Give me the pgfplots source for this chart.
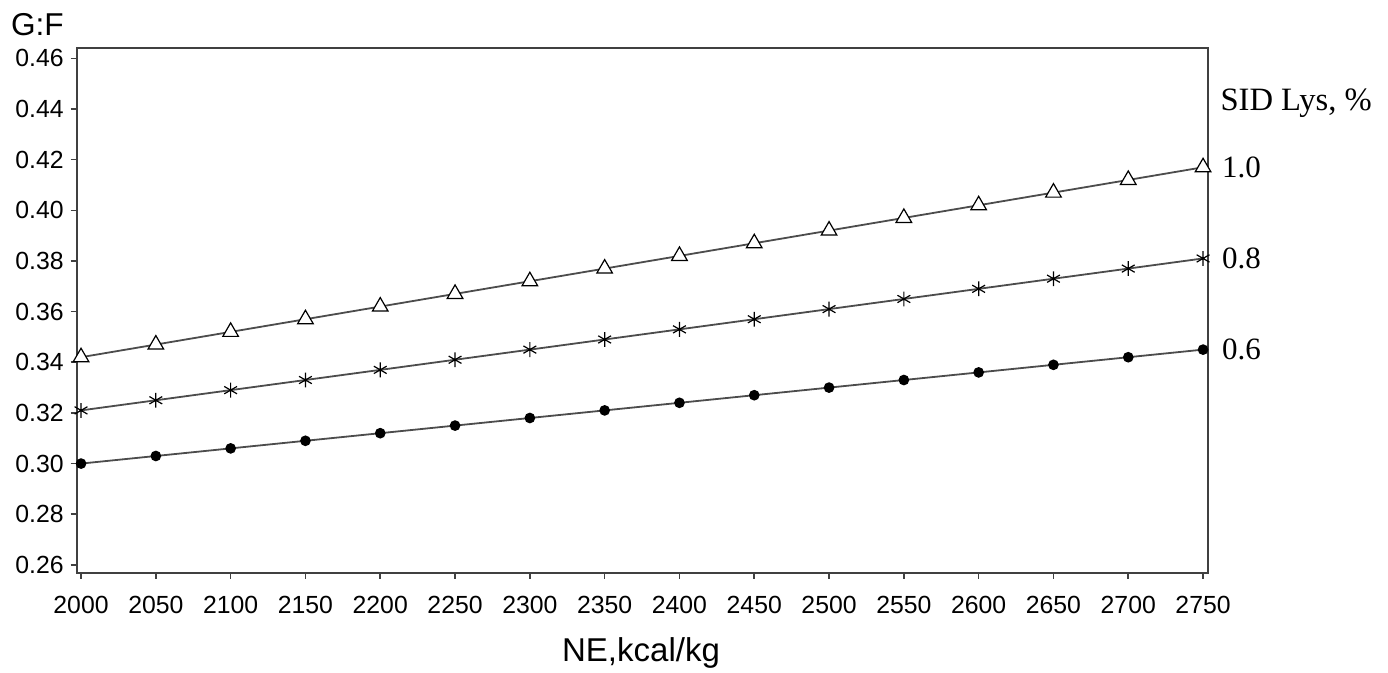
\documentclass[border=0pt]{standalone}
\usepackage{pgfplots}
\pgfplotsset{compat=1.18}
\usepackage{fontspec}
\setmainfont{Liberation Sans}
\newfontfamily\timesfont{Liberation Serif}
\begin{document}
\begin{tikzpicture}
\begin{axis}[name=ax, at={(0,0)}, anchor=south west,
  scale only axis, width=565.65pt, height=262.5pt,
  xmin=1997.1, xmax=2753.3, ymin=0.2568, ymax=0.4641,
  xtick={2000,2050,2100,2150,2200,2250,2300,2350,2400,2450,2500,2550,2600,2650,2700,2750},
  ytick={0.26,0.28,0.30,0.32,0.34,0.36,0.38,0.40,0.42,0.44,0.46},
  axis line style={black!75, line width=0.8pt},
  tick style={black!75, line width=0.8pt},
  tick align=outside, major tick length=3pt,
  xtick pos=bottom, ytick pos=left,
  tick label style={font=\fontsize{12.4}{14}\selectfont, black},
  /pgf/number format/assume math mode=true,
  yticklabel style={/pgf/number format/fixed, /pgf/number format/precision=2, /pgf/number format/fixed zerofill},
  xticklabel style={/pgf/number format/set thousands separator={}, yshift=-5pt},
  clip=false,
]
\addplot[black!70, line width=0.9pt, mark=*, mark size=2.2pt, mark options={black, fill=black}] coordinates {
(2000,0.300) (2050,0.303) (2100,0.306) (2150,0.309) (2200,0.312) (2250,0.315) (2300,0.318) (2350,0.321)
(2400,0.324) (2450,0.327) (2500,0.330) (2550,0.333) (2600,0.336) (2650,0.339) (2700,0.342) (2750,0.345)};
\addplot[black!70, line width=0.9pt, mark=asterisk, mark size=3.7pt, mark options={black, line width=0.6pt}] coordinates {
(2000,0.321) (2050,0.325) (2100,0.329) (2150,0.333) (2200,0.337) (2250,0.341) (2300,0.345) (2350,0.349)
(2400,0.353) (2450,0.357) (2500,0.361) (2550,0.365) (2600,0.369) (2650,0.373) (2700,0.377) (2750,0.381)};
\addplot[black!70, line width=0.9pt, mark=triangle*, mark size=4.5pt, mark options={black, fill=white, line width=0.6pt}] coordinates {
(2000,0.342) (2050,0.347) (2100,0.352) (2150,0.357) (2200,0.362) (2250,0.367) (2300,0.372) (2350,0.377)
(2400,0.382) (2450,0.387) (2500,0.392) (2550,0.397) (2600,0.402) (2650,0.407) (2700,0.412) (2750,0.417)};
\node[anchor=west, inner sep=0pt, xshift=6.85pt, font=\timesfont\fontsize{15.5}{17}\selectfont] at (axis cs:2753.3,0.417) {1.0};
\node[anchor=west, inner sep=0pt, xshift=6.85pt, font=\timesfont\fontsize{15.5}{17}\selectfont] at (axis cs:2753.3,0.381) {0.8};
\node[anchor=west, inner sep=0pt, xshift=6.85pt, font=\timesfont\fontsize{15.5}{17}\selectfont] at (axis cs:2753.3,0.345) {0.6};
\node[anchor=west, inner sep=0pt, xshift=6.1pt, font=\timesfont\fontsize{16.3}{18}\selectfont] at (axis cs:2753.3,0.4423) {SID Lys, \%};
\end{axis}
\node[anchor=base west, inner sep=0pt, font=\fontsize{15.8}{18}\selectfont] at (-33pt,268.5pt) {G:F};
\node[anchor=base, inner sep=0pt, font=\fontsize{16.5}{19}\selectfont] at (282.15pt,-44.35pt) {NE,kcal/kg};
\pgfresetboundingbox
\path[use as bounding box] (-38.35pt,-50pt) rectangle (655.65pt,286.5pt);
\end{tikzpicture}
\end{document}
